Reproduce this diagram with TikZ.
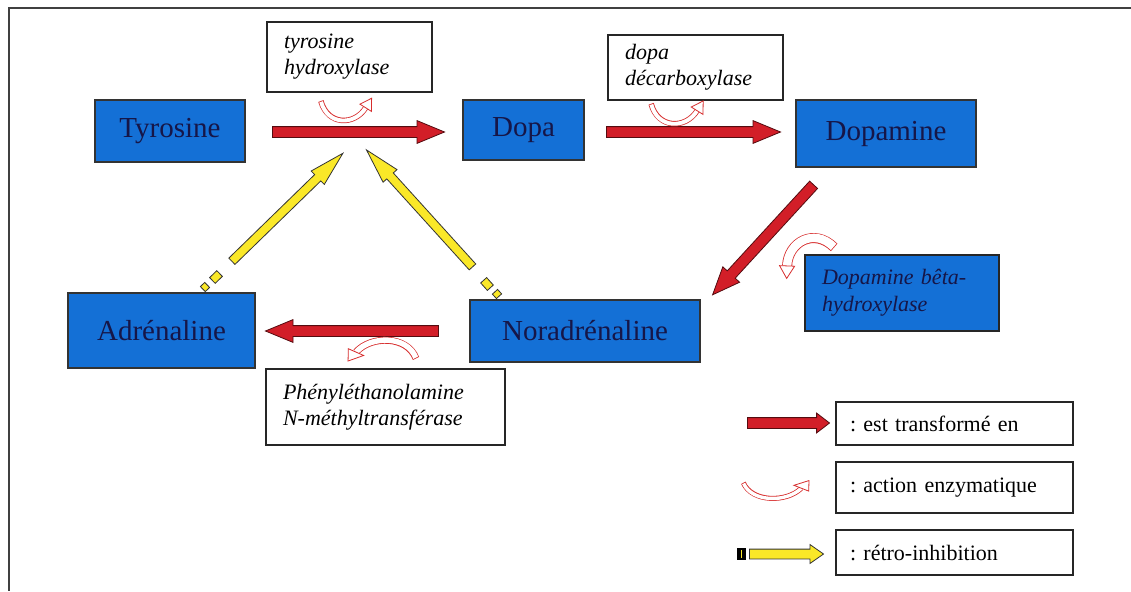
\documentclass[tikz,border=0pt]{standalone}
\usepackage{fontspec}
\setmainfont{Liberation Serif}
\usetikzlibrary{shapes.arrows,calc}
\frenchspacing
\definecolor{boxblue}{RGB}{20,112,214}
\definecolor{navy}{RGB}{22,22,72}
\definecolor{arrred}{RGB}{210,30,40}
\definecolor{arryel}{RGB}{250,232,40}
\definecolor{curlred}{RGB}{215,45,45}
\newcommand\fatarrow[3]{\path let \p1=($(#3)-(#2)$), \n1={veclen(\x1,\y1)}, \n2={atan2(\y1,\x1)} in node[#1, minimum height=\n1, rotate=\n2] at ($(#2)!0.5!(#3)$) {};}
\tikzset{
  mol/.style={draw=black!80, line width=1.2pt, fill=boxblue, text=navy, font=\fontsize{29}{32}\selectfont, inner sep=0pt},
  enzbox/.style={draw=black!85, line width=1.2pt, fill=white, text=black, font=\itshape\fontsize{22}{26}\selectfont, align=left, inner xsep=17pt, inner ysep=0pt},
  legbox/.style={draw=black!85, line width=1.2pt, fill=white, text=black, font=\fontsize{22}{25}\selectfont, align=left, inner xsep=14pt, inner ysep=0pt, text width=209pt},
  redarrow/.style={single arrow, draw=black!60!arrred, line width=0.8pt, fill=arrred, inner xsep=0pt, inner ysep=5pt, minimum width=22pt, single arrow head extend=6pt, single arrow tip angle=45},
  yelarrow/.style={single arrow, draw=black!80, line width=0.8pt, fill=arryel, inner xsep=0pt, inner ysep=4pt, minimum width=18pt, single arrow head extend=5pt, single arrow tip angle=30},
  legred/.style={redarrow, single arrow tip angle=75, minimum width=19pt, single arrow head extend=4.5pt},
  legyel/.style={yelarrow, inner ysep=4.5pt, single arrow tip angle=70, minimum width=18pt, single arrow head extend=4.5pt},
  tailbit/.style={draw=black!80, line width=0.8pt, fill=arryel, inner sep=0pt},
  pics/enz/.style={code={
    \path[draw=curlred, line width=#1pt] (-26,-8) .. controls (-20,14) and (4,14) .. (14,-2);
    \path[draw=white, line width=#1pt-1.6pt, shorten <=0.8pt] (-26,-8) .. controls (-20,14) and (4,14) .. (14,-2);
    \draw[curlred, fill=white, line width=0.8pt] (19.3,-10.5) -- (19.1,1.2) -- (8.9,-5.2) -- cycle;
  }}
}
\begin{document}
\begin{tikzpicture}[x=1pt,y=-1pt]
\useasboundingbox (0,0) rectangle (1131,591);
\fill[white] (0,0) rectangle (1131,591);
\draw[line width=1.5pt, black!75] (1131,8) -- (9,8) -- (9,591);

% molecules
\node[mol, minimum width=150pt, minimum height=62pt] (tyr) at (170,131) {Tyrosine};
\node[mol, minimum width=121pt, minimum height=60pt] (dopa) at (523.5,130) {Dopa};
\node[mol, minimum width=180pt, minimum height=67pt] (dopamine) at (886,133.5) {Dopamine};
\node[mol, minimum width=187pt, minimum height=75pt] (adr) at (161.5,330.5) {Adrénaline};
\node[mol, minimum width=230pt, minimum height=62pt] (norad) at (585,331) {Noradrénaline};

% enzymes
\node[enzbox, text width=131pt, minimum height=70pt] (th) at (349.5,57) {tyrosine\\hydroxylase};
\node[enzbox, text width=141pt, minimum height=65pt] (ddc) at (695.5,67.5) {dopa\\décarboxylase};
\node[enzbox, text width=205pt, minimum height=76pt] (pnmt) at (385.5,407) {Phényléthanolamine\\N-méthyltransférase};
\node[enzbox, fill=boxblue, text=navy, text width=160pt, minimum height=76pt, font=\itshape\fontsize{22}{27}\selectfont] (dbh) at (902,293) {Dopamine bêta-\\hydroxylase};

% legend
\node[legbox, minimum height=43pt] (l1) at (954.5,423.5) {: est transformé en};
\node[legbox, minimum height=51pt] (l2) at (954.5,487.5) {: action enzymatique};
\node[legbox, minimum height=45pt] (l3) at (954.5,552.5) {: rétro-inhibition};

% arrow end points
\coordinate (r1s) at (266,132); \coordinate (r1e) at (438,132);
\coordinate (r2s) at (600,132); \coordinate (r2e) at (774,132);
\coordinate (r3s) at (818,180); \coordinate (r3e) at (717,290);
\coordinate (r4s) at (445,331); \coordinate (r4e) at (272,331);
\coordinate (y1s) at (226,267); \coordinate (y1e) at (337,159);
\coordinate (y2s) at (478,273); \coordinate (y2e) at (372,156);
\coordinate (lrs) at (744,423); \coordinate (lre) at (826,423);
\coordinate (lys) at (746,554); \coordinate (lye) at (820,554);

\fatarrow{redarrow}{r1s}{r1e}
\fatarrow{redarrow}{r2s}{r2e}
\fatarrow{redarrow}{r3s}{r3e}
\fatarrow{redarrow}{r4s}{r4e}
\fatarrow{yelarrow}{y1s}{y1e}
\fatarrow{yelarrow}{y2s}{y2e}
\fatarrow{legred}{lrs}{lre}
\fatarrow{legyel}{lys}{lye}

% broken tails of the retro-inhibition arrows
\node[tailbit, minimum width=10pt, minimum height=8pt, rotate=44] (d1) at (216,277) {};
\node[tailbit, minimum width=6pt, minimum height=7pt, rotate=44] (d2) at (205,287) {};
\node[tailbit, minimum width=10pt, minimum height=8pt, rotate=132] (d3) at (487,284) {};
\node[tailbit, minimum width=6pt, minimum height=7pt, rotate=132] (d4) at (497,294) {};
\node[draw=black, fill=black, minimum width=8pt, minimum height=11pt, inner sep=0pt] (lyt) at (741,554) {};
\draw[arryel, line width=1pt] (741,550) -- (741,558);

% enzymatic action curls
\pic[scale=1.12] at (350,110) {enz=5.5};
\pic[scale=1.15] at (681,113) {enz=5.5};
\pic[xscale=1.45, yscale=0.9] at (781,490) {enz=5};
\pic[rotate=180, xscale=1.5, yscale=1.05] at (377,350) {enz=7};
\pic[rotate=210, scale=1.25] at (801,255) {enz=10};
\end{tikzpicture}
\end{document}
